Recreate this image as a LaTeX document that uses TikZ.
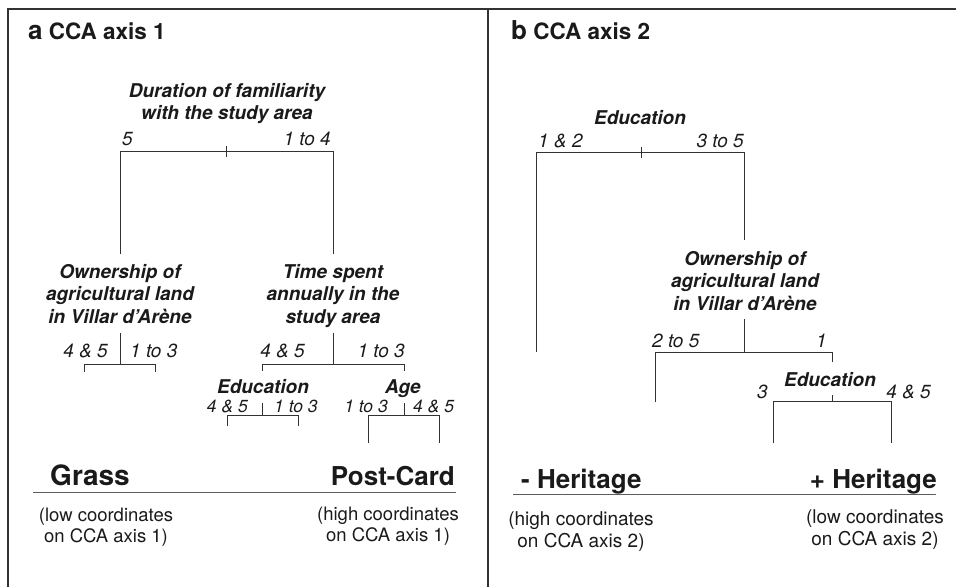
\documentclass[tikz,border=0pt]{standalone}
\usepackage{fontspec}
\setmainfont{TeX Gyre Heros}
\definecolor{ink}{HTML}{1A1A1A}
\definecolor{ln}{HTML}{333333}
\begin{document}
\begin{tikzpicture}[x=1pt,y=-1pt,
  every node/.style={inner sep=0pt,text=ink},
  ttl/.style={font=\fontsize{22.5}{24}\selectfont\bfseries,anchor=base west},
  vlab/.style={font=\fontsize{19}{22.5}\selectfont\bfseries\itshape,align=center},
  num/.style={font=\fontsize{19}{20}\selectfont\itshape},
  snum/.style={font=\fontsize{17.5}{20}\selectfont\itshape},
  big/.style={font=\fontsize{26}{30}\selectfont\bfseries},
  note/.style={font=\fontsize{18.5}{20.5}\selectfont,align=center,anchor=north},
  tree/.style={draw=ln,line width=0.9pt},
  frame/.style={draw=ln,line width=1.1pt},
  rule/.style={draw=ln!80,line width=1pt}]
\useasboundingbox (0,0) rectangle (956,587);
% frame
\coordinate (fBL) at (8,587); \coordinate (fTL) at (8,9); \coordinate (fTR) at (956,9);
\coordinate (dT) at (488,9); \coordinate (dB) at (488,587);
\draw[frame] (fBL) -- (fTL) -- (fTR);
\draw[frame] (dT) -- (dB);

% ---------------- panel a ----------------
\node[ttl] (ta) at (28,39) {{\fontsize{26}{26}\selectfont a} CCA axis 1};
\node[vlab,anchor=north] (dur) at (227,83) {Duration of familiarity\\with the study area};
\node[num,anchor=base west] (d5) at (122,145) {5};
\node[num,anchor=base east] (d14) at (331,145) {1 to 4};
\coordinate (a1L) at (120,151); \coordinate (a1R) at (333,151);
\coordinate (a1t1) at (226,146); \coordinate (a1t2) at (226,157);
\coordinate (a1Lb) at (120,254); \coordinate (a1Rb) at (333,254);
\draw[tree] (a1Lb) -- (a1L) -- (a1R) -- (a1Rb);
\draw[tree] (a1t1) -- (a1t2);

\node[vlab,anchor=north] (own) at (120,264) {Ownership of\\agricultural land\\in Villar d'Arène};
\node[vlab,anchor=north] (time) at (333,264) {Time spent\\annually in the\\study area};

% ownership split
\coordinate (o1) at (120,333); \coordinate (o2) at (120,364);
\coordinate (oL) at (84,364); \coordinate (oR) at (155,364);
\coordinate (oLb) at (84,372); \coordinate (oRb) at (155,372);
\draw[tree] (o1) -- (o2);
\draw[tree] (oLb) -- (oL) -- (oR) -- (oRb);
\node[num,anchor=base east] (o45) at (108,357) {4 \& 5};
\node[num,anchor=base west] (o13) at (130,357) {1 to 3};

% time split
\coordinate (s1) at (333,333); \coordinate (s2) at (333,364);
\coordinate (sL) at (262,364); \coordinate (sR) at (404,364);
\coordinate (sLb) at (262,371); \coordinate (sRb) at (404,371);
\draw[tree] (s1) -- (s2);
\draw[tree] (sLb) -- (sL) -- (sR) -- (sRb);
\node[num,anchor=base east] (s45) at (305,357) {4 \& 5};
\node[num,anchor=base east] (s13) at (405,357) {1 to 3};

% education (a)
\node[vlab,anchor=base] (eda) at (263,393) {Education};
\node[snum,anchor=base east] (e45) at (248,412) {4 \& 5};
\node[snum,anchor=base west] (e13) at (274,412) {1 to 3};
\coordinate (et1) at (262,403); \coordinate (et2) at (262,415);
\coordinate (eL) at (227,415); \coordinate (eR) at (298,415);
\coordinate (eLb) at (227,426); \coordinate (eRb) at (298,426);
\draw[tree] (et1) -- (et2);
\draw[tree] (eLb) -- (eL) -- (eR) -- (eRb);

% age
\node[vlab,anchor=base] (age) at (403,393) {Age};
\node[snum,anchor=base east] (g13) at (388,412) {1 to 3};
\node[snum,anchor=base west] (g45) at (413,412) {4 \& 5};
\coordinate (gt1) at (404,403); \coordinate (gt2) at (404,415);
\coordinate (gL) at (368,415); \coordinate (gR) at (439,415);
\coordinate (gLb) at (368,443); \coordinate (gRb) at (439,443);
\draw[tree] (gt1) -- (gt2);
\draw[tree] (gLb) -- (gL) -- (gR) -- (gRb);

% ends
\node[big,anchor=base,font=\fontsize{28}{30}\selectfont\bfseries] (grass) at (90,485) {Grass};
\node[big,anchor=base east] (post) at (455,485) {Post-Card};
\coordinate (raL) at (33,492); \coordinate (raR) at (456,492);
\draw[rule] (raL) -- (raR);
\node[note] (lowa) at (106,508) {(low coordinates\\on CCA axis 1)};
\node[note] (higha) at (388,507) {(high coordinates\\on CCA axis 1)};

% ---------------- panel b ----------------
\node[ttl] (tb) at (511,39) {{\fontsize{26}{26}\selectfont b} CCA axis 2};
\node[vlab,anchor=base] (edb) at (640,124) {Education};
\node[num,anchor=base west] (b12) at (538,147) {1 \& 2};
\node[num,anchor=base east] (b35) at (744,147) {3 to 5};
\coordinate (b1L) at (536,152); \coordinate (b1R) at (744,152);
\coordinate (bt1) at (641,147); \coordinate (bt2) at (641,158);
\coordinate (b1Lb) at (536,352); \coordinate (b1Rb) at (744,240);
\draw[tree] (b1Lb) -- (b1L) -- (b1R) -- (b1Rb);
\draw[tree] (bt1) -- (bt2);

\node[vlab,anchor=north] (ownb) at (745,251) {Ownership of\\agricultural land\\in Villar d'Arène};
\coordinate (w1) at (744,319); \coordinate (w2) at (744,352);
\coordinate (wL) at (655,352); \coordinate (wR) at (832,352);
\coordinate (wLb) at (655,402); \coordinate (wRb) at (832,362);
\draw[tree] (w1) -- (w2);
\draw[tree] (wLb) -- (wL) -- (wR) -- (wRb);
\node[num,anchor=base west] (w25) at (652,347) {2 to 5};
\node[num,anchor=base east] (w1l) at (827,347) {1};

\node[vlab,anchor=base] (edc) at (830,386) {Education};
\node[num,anchor=base west] (c3) at (757,398) {3};
\node[num,anchor=base east] (c45) at (931,398) {4 \& 5};
\coordinate (ct1) at (832,395); \coordinate (ct2) at (832,401);
\coordinate (cL) at (773,401); \coordinate (cR) at (891,401);
\coordinate (cLb) at (773,443); \coordinate (cRb) at (891,443);
\draw[tree] (ct1) -- (ct2);
\draw[tree] (cLb) -- (cL) -- (cR) -- (cRb);

\node[big,anchor=base west] (mher) at (521,488) {- Heritage};
\node[big,anchor=base east] (pher) at (937,488) {+ Heritage};
\coordinate (rbL) at (513,494); \coordinate (rbR) at (936,494);
\draw[rule] (rbL) -- (rbR);
\node[note,font=\fontsize{19}{22}\selectfont] (highb) at (581,511) {(high coordinates\\on CCA axis 2)};
\node[note,font=\fontsize{19}{22}\selectfont] (lowb) at (875,509) {(low coordinates\\on CCA axis 2)};
\end{tikzpicture}
\end{document}
